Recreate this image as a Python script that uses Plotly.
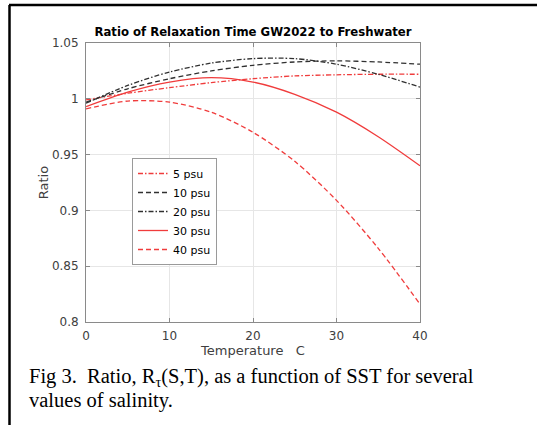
import plotly.graph_objects as go

# ---- data ----
temperature = [0, 5, 10, 15, 20, 25, 30, 35, 40]
ratio_5psu = [0.999, 1.005, 1.010, 1.0145, 1.018, 1.0205, 1.0215, 1.022, 1.022]
ratio_10psu = [0.997, 1.009, 1.018, 1.025, 1.030, 1.033, 1.034, 1.033, 1.031]
ratio_20psu = [0.996, 1.012, 1.024, 1.032, 1.036, 1.036, 1.031, 1.022, 1.0105]
ratio_30psu = [0.993, 1.006, 1.015, 1.019, 1.015, 1.004, 0.988, 0.966, 0.940]
ratio_40psu = [0.991, 0.998, 0.997, 0.988, 0.970, 0.944, 0.909, 0.866, 0.816]

series_names = ["5 psu", "10 psu", "20 psu", "30 psu", "40 psu"]
x_ticks = [0, 10, 20, 30, 40]
y_ticks = [0.8, 0.85, 0.9, 0.95, 1.0, 1.05]
y_tick_labels = ["0.8", "0.85", "0.9", "0.95", "1", "1.05"]

RED = "#f03c3c"
BLACK = "#303030"
DASH = "5px,3px"
DASHDOT = "5px,2px,1.5px,2px"
styles = [
    dict(color=RED, dash=DASHDOT),
    dict(color=BLACK, dash=DASH),
    dict(color=BLACK, dash=DASHDOT),
    dict(color=RED, dash="solid"),
    dict(color=RED, dash=DASH),
]
all_series = [ratio_5psu, ratio_10psu, ratio_20psu, ratio_30psu, ratio_40psu]

W, H = 537, 425
L, R, T, B = 86, 420, 43, 322  # plot area in pixels


def px(xp):
    return (xp - L) / (R - L)


def py(yp):
    return (B - yp) / (B - T)


fig = go.Figure()
for name, ys, st in zip(series_names, all_series, styles):
    fig.add_trace(go.Scatter(
        x=temperature, y=ys, name=name, mode="lines",
        line=dict(color=st["color"], dash=st["dash"], width=1.3, shape="spline", smoothing=0.8),
    ))

tick_font = dict(family="DejaVu Sans", size=12, color="#404040")
label_font = dict(family="DejaVu Sans", size=13, color="#404040")
fig.update_layout(
    width=W, height=H,
    margin=dict(l=L, r=W - R, t=T, b=H - B, pad=0),
    paper_bgcolor="white", plot_bgcolor="white",
    title=dict(text="<b>Ratio of Relaxation Time GW2022 to Freshwater</b>",
               font=dict(family="DejaVu Sans", size=11.7, color="black"),
               x=0.5, xref="paper", xanchor="center",
               y=1 - 32 / H, yref="container", yanchor="middle"),
    xaxis=dict(range=[0, 40], tickvals=x_ticks, ticktext=[str(v) for v in x_ticks],
               showgrid=True, gridcolor="#e6e6e6", gridwidth=1,
               showline=True, linecolor="#8a8a8a", linewidth=1, mirror="ticks",
               ticks="inside", ticklen=4, tickcolor="#8a8a8a",
               tickfont=tick_font, zeroline=False, ticklabelstandoff=3,
               title=dict(text="Temperature   C", font=label_font, standoff=2)),
    yaxis=dict(range=[0.8, 1.05], tickvals=y_ticks, ticktext=y_tick_labels,
               showgrid=True, gridcolor="#e6e6e6", gridwidth=1,
               showline=True, linecolor="#8a8a8a", linewidth=1, mirror="ticks",
               ticks="inside", ticklen=4, tickcolor="#8a8a8a",
               tickfont=tick_font, zeroline=False, ticklabelstandoff=4,
               title=dict(text="Ratio", font=label_font, standoff=0)),
    legend=dict(x=px(132), y=py(158), xanchor="left", yanchor="top",
                bgcolor="white", bordercolor="#9a9a9a", borderwidth=1,
                font=dict(family="DejaVu Sans", size=11, color="black"),
                itemwidth=30, tracegroupgap=0),
    showlegend=True,
)

# page frame (table cell border)
fig.add_shape(type="line", xref="paper", yref="paper",
              x0=px(9), x1=px(537), y0=py(5), y1=py(5),
              line=dict(color="black", width=2.5))
fig.add_shape(type="line", xref="paper", yref="paper",
              x0=px(9.5), x1=px(9.5), y0=py(5), y1=py(425),
              line=dict(color="black", width=2.5))

cap_font = dict(family="Liberation Serif", size=20.5, color="black")
fig.add_annotation(text="Fig 3.  Ratio, R<sub>τ</sub>(S,T), as a function of SST for several",
                   xref="paper", yref="paper", x=px(27), y=py(377),
                   xanchor="left", yanchor="middle", showarrow=False, font=cap_font)
fig.add_annotation(text="values of salinity.",
                   xref="paper", yref="paper", x=px(27), y=py(401),
                   xanchor="left", yanchor="middle", showarrow=False, font=cap_font)

fig.write_html("out.html", config={"displayModeBar": False},
               post_script="document.body.style.margin='0';document.body.style.padding='0';")
